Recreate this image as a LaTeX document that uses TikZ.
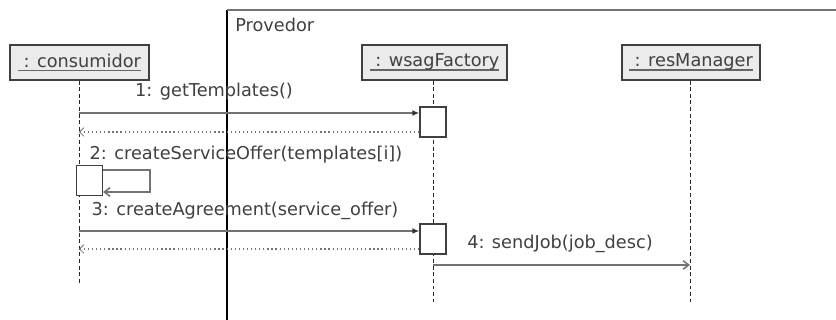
\documentclass[tikz,border=0pt]{standalone}
\usepackage{fontspec}
\setmainfont{DejaVu Sans}
\usetikzlibrary{arrows.meta,positioning}

\newcommand{\objname}[1]{\setbox0\hbox{~#1}\rlap{\color{black!60}\rule[-3pt]{\wd0}{1.2pt}}\box0}

\begin{document}
\begin{tikzpicture}
[x=0.025cm, y=-0.025cm,
objhead/.style={draw=black!75, fill=black!8, line width=0.9pt, minimum height=0.875cm, inner sep=2pt, text=black!75, font=\fontsize{12.6}{14}\selectfont},
activation/.style={draw=black!75, fill=white, line width=0.8pt, minimum width=0.65cm, minimum height=0.75cm, inner sep=0pt},
lifeline/.style={black!85, line width=0.7pt, dash pattern=on 2.8pt off 1.9pt},
msglabel/.style={text=black!75, font=\fontsize{12.6}{14}\selectfont, inner sep=0pt},
call/.style={black!55, line width=1.1pt, -{Latex[length=5pt,width=4pt,black!80]}},
async/.style={black!55, line width=1.1pt, -{Straight Barb[length=4pt,width=6pt]}},
reply/.style={black!55, line width=0.9pt, dotted, -{Straight Barb[length=3pt,width=6pt,line width=0.6pt]}},
]
    \useasboundingbox (0,0) rectangle (836,320);

    % system frame
    \draw[black, line width=1.2pt] (227,320) -- (227,10);
    \draw[black!55, line width=1.2pt] (227,10) -- (836,10);
    \node (provedor) [msglabel, anchor=west] at (235,25) {Provedor};

    % object heads
    \node (cons) [objhead, minimum width=3.475cm] at (79.5,62.5) {\objname{: consumidor}};
    \node (wsag) [objhead, minimum width=3.625cm] at (434.5,62.5) {\objname{: wsagFactory}};
    \node (res) [objhead, minimum width=3.45cm] at (691,62.5) {\objname{: resManager}};

    % lifelines
    \coordinate (consend) at (79,283);
    \coordinate (wsagend) at (433,302);
    \coordinate (resend) at (690,302);
    \draw[lifeline] (cons.south -| consend) -- (consend);
    \draw[lifeline] (wsag.south -| wsagend) -- (wsagend);
    \draw[lifeline] (res.south -| resend) -- (resend);

    % activations
    \node (act1) [activation] at (433,122) {};
    \node (act2) [activation] at (89.5,180.5) {};
    \node (act3) [activation] at (433,239) {};

    % 1: getTemplates
    \coordinate (m1) at (79,113);
    \coordinate (r1) at (79,132);
    \draw[call] (m1) -- (m1 -| act1.west);
    \node (lbl1) [msglabel] at (214,92) {1: getTemplates()};
    \draw[reply] (r1 -| act1.west) -- (r1);

    % 2: createServiceOffer
    \node (lbl2) [msglabel] at (246,155) {2: createServiceOffer(templates[i])};
    \coordinate (loop) at (150,170);
    \draw[async] (act2.east |- loop) -- (loop) -- (150,192) -- (act2.east |- 0,192);

    % 3: createAgreement
    \coordinate (m3) at (79,231);
    \coordinate (r3) at (79,249);
    \draw[call] (m3) -- (m3 -| act3.west);
    \node (lbl3) [msglabel] at (245,211) {3: createAgreement(service\_offer)};
    \draw[reply] (r3 -| act3.west) -- (r3);

    % 4: sendJob
    \coordinate (m4) at (433,265);
    \draw[async] (m4) -- (m4 -| resend);
    \node (lbl4) [msglabel] at (560,244) {4: sendJob(job\_desc)};
\end{tikzpicture}
\end{document}
